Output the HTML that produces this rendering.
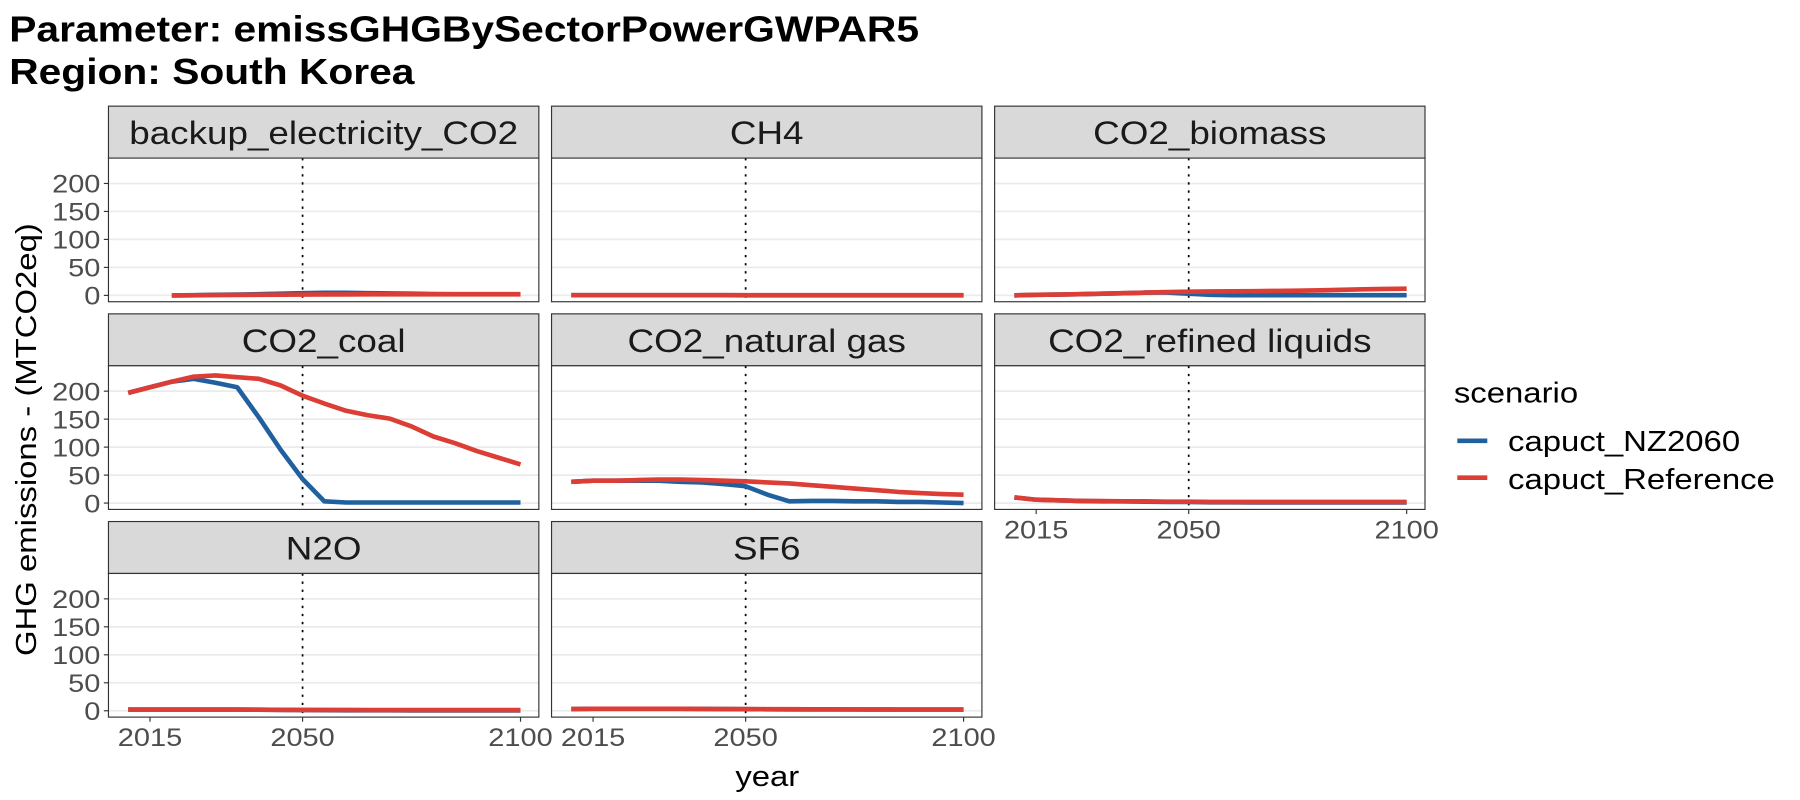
<!DOCTYPE html>
<html><head><meta charset="utf-8"><style>
html,body{margin:0;padding:0;background:#fff}
svg{display:block;font-family:"Liberation Sans",Arial,sans-serif}
</style></head><body>
<svg id="chart" width="1800" height="800" viewBox="0 0 1560 693.33">
<text class="wx" x="8" y="36" font-size="31" font-weight="bold" fill="#000">Parameter: emissGHGBySectorPowerGWPAR5</text>
<text class="wx" x="8" y="73" font-size="31" font-weight="bold" fill="#000">Region: South Korea</text>
<g id="panels"></g>
<text class="wx" transform="translate(31,381) rotate(-90)" text-anchor="middle" font-size="25" fill="#000">GHG emissions - (MTCO2eq)</text>
<text class="wx" x="665" y="681" text-anchor="middle" font-size="25" fill="#000">year</text>
<g>
<text class="wx" x="1260" y="349" font-size="25" fill="#000">scenario</text>
<line x1="1263" y1="382" x2="1289" y2="382" stroke="#21609f" stroke-width="4"/>
<text class="wx" x="1307" y="391" font-size="25" fill="#000">capuct_NZ2060</text>
<line x1="1263" y1="414" x2="1289" y2="414" stroke="#dc3d35" stroke-width="4"/>
<text class="wx" x="1307" y="424" font-size="25" fill="#000">capuct_Reference</text>
</g>
</svg>
<script>
const years = [2010,2015,2020,2025,2030,2035,2040,2045,2050,2055,2060,2065,2070,2075,2080,2085,2090,2095,2100];
const facets = ["backup_electricity_CO2","CH4","CO2_biomass","CO2_coal","CO2_natural gas","CO2_refined liquids","N2O","SF6"];
const yTicks = [0,50,100,150,200];
const xTicks = [2015,2050,2100];
const refYear = 2050;
const nzBackup   = [null,null,0,0.5,1,1.5,2,3,4,4.5,4.5,4,3.5,3,2.5,2,2,2,2];
const refBackup  = [null,null,0,0.3,0.6,0.8,1,1.2,1.5,1.6,1.7,1.8,1.8,1.8,1.8,1.8,1.8,1.8,1.8];
const nzCH4      = [0.5,0.5,0.4,0.4,0.4,0.4,0.4,0.4,0.3,0.3,0.3,0.3,0.3,0.3,0.3,0.3,0.3,0.3,0.3];
const refCH4     = [0.5,0.5,0.4,0.4,0.4,0.4,0.4,0.4,0.4,0.4,0.4,0.4,0.4,0.4,0.4,0.4,0.4,0.4,0.4];
const nzBio      = [0,1,1.5,2,3,4,5,5,3,1,0.5,0.5,0.5,0.5,0.5,0.5,0.5,0.5,0.5];
const refBio     = [0,1,1.5,2,3,4,5,6,6.5,7,7.2,7.5,8,8.5,9,10,11,11.5,12];
const nzCoal     = [197,207,217,222,215,207,153,95,43,3,1,1,1,1,1,1,1,1,1];
const refCoal    = [197,207,217,226,228,225,222,210,192,178,165,157,151,137,119,107,93,81,69];
const nzGas      = [38,40,40,40,40,38,37,34,30,15,3,4,4,3,3,2,2,1,0];
const refGas     = [38,40,40,41,42,42,41,40,39,37,35,32,29,26,23,20,18,16,15];
const nzLiq      = [10,6,5,4,3,3,2.5,2,2,1.5,1.5,1,1,1,1,1,1,1,1];
const refLiq     = [10,6,5,4,3.5,3,3,2.5,2.5,2,2,2,2,2,2,2,2,2,2];
const nzN2O      = [2,2,2,2,2,2,1.8,1.5,1.2,1,0.8,0.8,0.8,0.7,0.7,0.6,0.6,0.6,0.6];
const refN2O     = [2,2,2,2,2,2,1.8,1.6,1.5,1.4,1.4,1.3,1.3,1.2,1.2,1.2,1.2,1.2,1.2];
const nzSF6      = [3,3.5,3.5,3.5,3.5,3.5,3.2,3,2.8,2.6,2.5,2.4,2.3,2.2,2.1,2,2,2,2];
const refSF6     = [3,3.5,3.5,3.5,3.5,3.5,3.3,3.1,3,2.9,2.8,2.7,2.6,2.5,2.4,2.3,2.2,2.2,2.2];
const seriesNZ  = [nzBackup,nzCH4,nzBio,nzCoal,nzGas,nzLiq,nzN2O,nzSF6];
const seriesRef = [refBackup,refCH4,refBio,refCoal,refGas,refLiq,refN2O,refSF6];

const NS="http://www.w3.org/2000/svg";
const root=document.getElementById('panels');
function mk(tag,attrs,parent){const e=document.createElementNS(NS,tag);for(const k in attrs)e.setAttribute(k,attrs[k]);(parent||root).appendChild(e);return e;}
const colX=[94,478,862], pw=373;
const rowY=[92,272,452], stripH=45, ph=124.5;
function xScale(col,yr){return colX[col]+36+(yr-2015)*3.7778;}
function yScale(row,v){return rowY[row]+stripH+119-v*0.485;}

facets.forEach((name,i)=>{
  const col=i%3,row=Math.floor(i/3);
  const g=mk('g',{});
  
  
  const x0=colX[col],y0=rowY[row],py=y0+stripH;
  const strip=mk('rect',{x:x0,y:y0,width:pw,height:stripH,fill:'#d9d9d9',stroke:'#333','stroke-width':1},g);
  
  
  const st=mk('text',{class:'wx',x:x0+pw/2,y:y0+33,'text-anchor':'middle','font-size':28,fill:'#1a1a1a'},g);
  st.textContent=name;
  
  
  mk('rect',{x:x0,y:py,width:pw,height:ph,fill:'#fff'},g);
  yTicks.forEach(t=>{
    const y=yScale(row,t);
    mk('line',{x1:x0,x2:x0+pw,y1:y,y2:y,stroke:'#ebebeb','stroke-width':1.5},g);
    if(col===0){
      mk('line',{x1:x0-4,x2:x0,y1:y,y2:y,stroke:'#333','stroke-width':1},g);
      const tl=mk('text',{class:'wx',x:x0-7,y:y+8,'text-anchor':'end','font-size':22,fill:'#4d4d4d'},g);
      tl.textContent=t;
      
      
    }
  });
  const rx=xScale(col,refYear);
  const vl=mk('line',{x1:rx,x2:rx,y1:py,y2:py+ph,stroke:'#000','stroke-width':1.5,'stroke-dasharray':'2 5'},g);
  
  
  [[seriesNZ[i],'#21609f','line-nz2060'],[seriesRef[i],'#dc3d35','line-reference']].forEach(([arr,c,nm])=>{
    const pts=[];arr.forEach((v,k)=>{if(v!==null)pts.push(xScale(col,years[k]).toFixed(1)+','+yScale(row,v).toFixed(1));});
    const pl=mk('polyline',{points:pts.join(' '),fill:'none',stroke:c,'stroke-width':4,'stroke-linejoin':'round'},g);
    
    
  });
  mk('rect',{x:x0,y:py,width:pw,height:ph,fill:'none',stroke:'#333','stroke-width':1},g);
  const showX = row===2 || (row===1 && col===2);
  if(showX){
    xTicks.forEach(t=>{
      const x=xScale(col,t);
      mk('line',{x1:x,x2:x,y1:py+ph,y2:py+ph+4,stroke:'#333','stroke-width':1},g);
      const tl=mk('text',{class:'wx',x:x,y:py+ph+25,'text-anchor':'middle','font-size':22,fill:'#4d4d4d'},g);
      tl.textContent=t;
      
      
    });
  }
});
document.querySelectorAll('text.wx').forEach(t=>{
  const w=t.getComputedTextLength();
  if(w>0){t.setAttribute('textLength',(w*1.14).toFixed(1));t.setAttribute('lengthAdjust','spacingAndGlyphs');}
});
</script>
</body></html>
